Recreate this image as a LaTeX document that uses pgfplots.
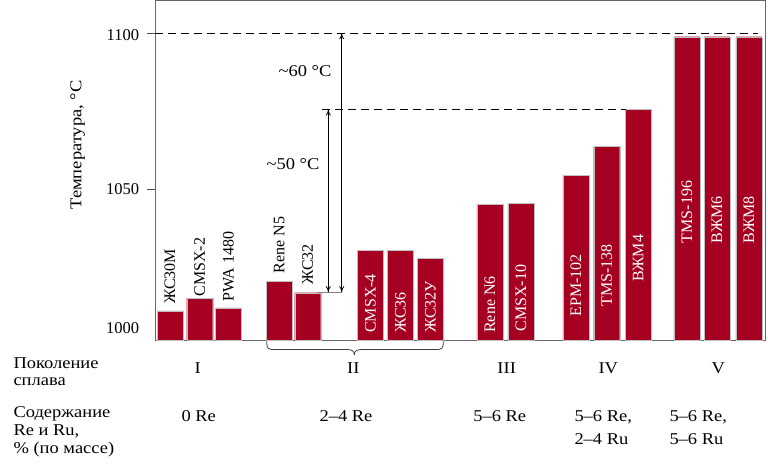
\documentclass[border=0pt]{standalone}
\usepackage{fontspec}
\setmainfont{Liberation Serif}
\newfontfamily\widefont[FakeStretch=1.12]{Liberation Serif}
\usepackage{pgfplots}
\pgfplotsset{compat=1.18}
\usetikzlibrary{arrows.meta}
\definecolor{barred}{RGB}{165,0,33}
\newcommand\bl{\fontsize{16}{19}\selectfont}
\newcommand\wl{\widefont\fontsize{16.5}{19}\selectfont}
\newcommand\tl{\fontsize{16.5}{19}\selectfont}
\begin{document}
\begin{tikzpicture}[x=1pt,y=1pt]
\begin{axis}[
  at={(155pt,130.3pt)}, anchor=south west,
  scale only axis, width=610pt, height=340.7pt,
  xmin=155, xmax=765, ymin=1001.3, ymax=1110.7,
  xtick=\empty, ytick={1050,1100}, yticklabels={},
  ytick pos=left, tick align=outside, major tick length=8pt,
  axis line style={draw=black!60, line width=0.8pt},
  tick style={black!70, line width=0.8pt},
  clip mode=individual,
]
\addplot[ybar, bar width=26, fill=barred, draw=black!25, line width=0.4pt] table {
x y
170.0 1010.9
199.7 1015.0
228.5 1011.8
279.1 1020.4
307.7 1016.7
370.5 1030.2
400.3 1030.2
430.5 1027.7
489.8 1045.0
520.8 1045.5
575.8 1054.5
606.7 1063.6
638.2 1075.5
686.8 1098.9
717.0 1098.9
748.8 1098.9
};
% dashed reference lines
\draw[dash pattern=on 8pt off 5pt, line width=1.1pt] (axis cs:155,1100) -- (axis cs:758,1100);
\draw[dash pattern=on 8pt off 5pt, line width=1.1pt] (axis cs:322,1075.5) -- (axis cs:626,1075.5);
\draw[black!50, line width=1pt] (axis cs:317,1016.9) -- (axis cs:342,1016.9);
\draw[{To[length=6pt,width=5pt]}-{To[length=6pt,width=5pt]}, line width=0.8pt] (axis cs:328.3,1016.9) -- (axis cs:328.3,1075.5);
\draw[{To[length=6pt,width=5pt]}-{To[length=6pt,width=5pt]}, line width=0.8pt] (axis cs:341.7,1016.9) -- (axis cs:341.7,1100);
\node[font=\wl] at (axis cs:305,1087.9) {\textasciitilde60 °C};
\node[font=\wl] at (axis cs:293,1058.0) {\textasciitilde50 °C};
% labels above bars
\node[rotate=90, anchor=west, inner sep=0pt, font=\bl] at (axis cs:170.0,1013.1) {ЖС30М};
\node[rotate=90, anchor=west, inner sep=0pt, font=\bl] at (axis cs:199.7,1015.4) {CMSX-2};
\node[rotate=90, anchor=west, inner sep=0pt, font=\bl] at (axis cs:228.5,1013.8) {PWA 1480};
\node[rotate=90, anchor=west, inner sep=0pt, font=\bl] at (axis cs:279.1,1022.9) {Rene N5};
\node[rotate=90, anchor=west, inner sep=0pt, font=\bl] at (axis cs:307.7,1019.2) {ЖС32};
% labels inside bars
\node[rotate=90, anchor=west, inner sep=0pt, font=\bl, text=white] at (axis cs:370.5,1003.8) {CMSX-4};
\node[rotate=90, anchor=west, inner sep=0pt, font=\bl, text=white] at (axis cs:400.3,1003.8) {ЖС36};
\node[rotate=90, anchor=west, inner sep=0pt, font=\bl, text=white] at (axis cs:430.5,1003.8) {ЖС32У};
\node[rotate=90, anchor=west, inner sep=0pt, font=\bl, text=white] at (axis cs:489.8,1003.8) {Rene N6};
\node[rotate=90, anchor=west, inner sep=0pt, font=\bl, text=white] at (axis cs:520.8,1004.2) {CMSX-10};
\node[rotate=90, anchor=west, inner sep=0pt, font=\bl, text=white] at (axis cs:575.8,1009.0) {EPM-102};
\node[rotate=90, anchor=west, inner sep=0pt, font=\bl, text=white] at (axis cs:606.7,1012.2) {TMS-138};
\node[rotate=90, anchor=west, inner sep=0pt, font=\bl, text=white] at (axis cs:638.2,1020.2) {ВЖМ4};
\node[rotate=90, anchor=west, inner sep=0pt, font=\bl, text=white] at (axis cs:686.8,1032.6) {TMS-196};
\node[rotate=90, anchor=west, inner sep=0pt, font=\bl, text=white] at (axis cs:717.0,1032.6) {ВЖМ6};
\node[rotate=90, anchor=west, inner sep=0pt, font=\bl, text=white] at (axis cs:748.8,1032.6) {ВЖМ8};
\end{axis}
% y tick labels
\node[anchor=east, inner sep=0pt, font=\tl] at (139.3,142.7) {1000};
\node[anchor=east, inner sep=0pt, font=\tl] at (139.3,282) {1050};
\node[anchor=east, inner sep=0pt, font=\tl] at (139.3,435.5) {1100};
% y label
\node[rotate=90, font=\wl] at (77.7,326) {Температура, °С};
% brace under group II
\draw[black!75, line width=0.8pt] (266.7,130) .. controls (266.7,122) and (268,121.5) .. (275,121.5) -- (347,121.5) .. controls (352,121.5) and (354.3,120) .. (354.3,116);
\draw[black!75, line width=0.8pt] (443.3,130) .. controls (443.3,122) and (442,121.5) .. (435,121.5) -- (361.6,121.5) .. controls (356.6,121.5) and (354.3,120) .. (354.3,116);
% row labels
\node[anchor=base west, inner sep=0pt, font=\wl] at (13.3,102.7) {Поколение};
\node[anchor=base west, inner sep=0pt, font=\wl] at (13.3,85) {сплава};
\node[anchor=base west, inner sep=0pt, font=\wl] at (13.3,53.3) {Содержание};
\node[anchor=base west, inner sep=0pt, font=\wl] at (13.3,35.3) {Re и Ru,};
\node[anchor=base west, inner sep=0pt, font=\wl] at (13.3,17) {\% (по массе)};
% generations
\node[anchor=base, inner sep=0pt, font=\wl] at (197.7,97) {I};
\node[anchor=base, inner sep=0pt, font=\wl] at (353.3,97) {II};
\node[anchor=base, inner sep=0pt, font=\wl] at (506.7,97) {III};
\node[anchor=base, inner sep=0pt, font=\wl] at (608.3,97) {IV};
\node[anchor=base, inner sep=0pt, font=\wl] at (718.3,97) {V};
% content
\node[anchor=base, inner sep=0pt, font=\wl] at (198.7,49.3) {0 Re};
\node[anchor=base, inner sep=0pt, font=\wl] at (346,49.3) {2–4 Re};
\node[anchor=base, inner sep=0pt, font=\wl] at (499.7,49.3) {5–6 Re};
\node[anchor=base west, inner sep=0pt, font=\wl] at (574.3,49.3) {5–6 Re,};
\node[anchor=base west, inner sep=0pt, font=\wl] at (574.3,26.7) {2–4 Ru};
\node[anchor=base west, inner sep=0pt, font=\wl] at (669.3,49.3) {5–6 Re,};
\node[anchor=base west, inner sep=0pt, font=\wl] at (669.3,26.7) {5–6 Ru};
\pgfresetboundingbox
\path (0,0) rectangle (768,471);
\end{tikzpicture}
\end{document}
